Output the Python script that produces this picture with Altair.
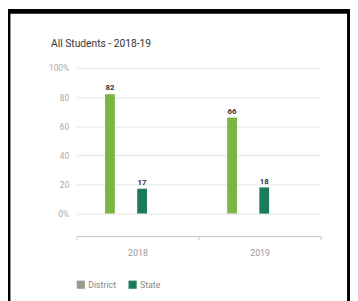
import altair as alt
import pandas as pd

years = ["2018", "2019"]
series = ["District", "State"]
district = [82, 66]
state = [17, 18]
y_ticks = [0, 20, 40, 60, 80, 100]
bar_colors = ["#7ab546", "#1b7b5a"]
legend_colors = ["#9a9a8c", "#1b7b5a"]
title_text = "All Students - 2018-19"

rows = []
for i, yr in enumerate(years):
    rows.append({"Year": yr, "Series": "District", "Value": district[i]})
    rows.append({"Year": yr, "Series": "State", "Value": state[i]})
df = pd.DataFrame(rows)

FONT = "Roboto, sans-serif"

x_enc = alt.X("Year:N", sort=years, title=None,
              scale=alt.Scale(paddingInner=0, paddingOuter=0),
              axis=alt.Axis(labelAngle=0, offset=23, domainColor="#c8c8c8",
                            tickColor="#c8c8c8", tickBand="extent", tickSize=4,
                            labelColor="#9a9a9a", labelFontSize=9, labelPadding=9,
                            labelFont=FONT, grid=False, zindex=1))
xo_enc = alt.XOffset("Series:N", sort=series,
                     scale=alt.Scale(domain=series, paddingInner=0, paddingOuter=0.9, align=0.302))
y_enc = alt.Y("Value:Q", title=None,
              scale=alt.Scale(domain=[0, 100], nice=False),
              axis=alt.Axis(values=y_ticks, tickCount=6, domain=False, ticks=False, labelOverlap=False,
                            labelFlush=False,
                            labelExpr="datum.value == 0 ? '0%' : datum.value == 100 ? '100%' : datum.label",
                            labelColor="#a8a8a8", labelFontSize=8.5, labelPadding=8,
                            labelFont=FONT, gridColor="#e4e4e4", gridWidth=1))

bars = alt.Chart(df).mark_bar(width=10).encode(
    x=x_enc, xOffset=xo_enc, y=y_enc,
    color=alt.Color("Series:N", scale=alt.Scale(domain=series, range=bar_colors), legend=None),
)

labels = alt.Chart(df).mark_text(dy=-6, fontSize=8, color="#333333", font=FONT, fontWeight="bold").encode(
    x=x_enc, xOffset=xo_enc, y=y_enc,
    text="Value:Q",
)

legend_layer = alt.Chart(df).transform_filter("datum.Value < 0").mark_square().encode(
    fill=alt.Fill("Series:N", scale=alt.Scale(domain=series, range=legend_colors),
                  legend=alt.Legend(title=None, orient="none", legendX=0, legendY=217,
                                    direction="horizontal", symbolType="square",
                                    symbolSize=70, symbolStrokeWidth=0, symbolOpacity=1,
                                    labelColor="#8a8a8a", labelFontSize=9, labelFont=FONT,
                                    columnPadding=12, labelOffset=3)),
)

title_layer = alt.Chart(pd.DataFrame({"t": [title_text]})).mark_text(
    align="left", baseline="middle", fontSize=10.5, font=FONT, color="#333333"
).encode(text="t:N", x=alt.value(-26), y=alt.value(-25))

frame = alt.Chart(pd.DataFrame({"a": [0]})).mark_rect(fill=None, stroke="black", strokeWidth=5).encode(
    x=alt.value(-70), x2=alt.value(279.5), y=alt.value(-58), y2=alt.value(260),
)

chart = alt.layer(bars, labels, legend_layer, title_layer, frame).resolve_scale(
    color="independent", fill="independent"
).properties(
    width=250, height=149,
    background="white",
    autosize=alt.AutoSizeParams(type="none"),
    padding={"left": 70, "top": 58, "right": 30, "bottom": 86},
).configure_view(stroke=None)

chart.save("out.html", embed_options={"renderer": "svg", "actions": False})
